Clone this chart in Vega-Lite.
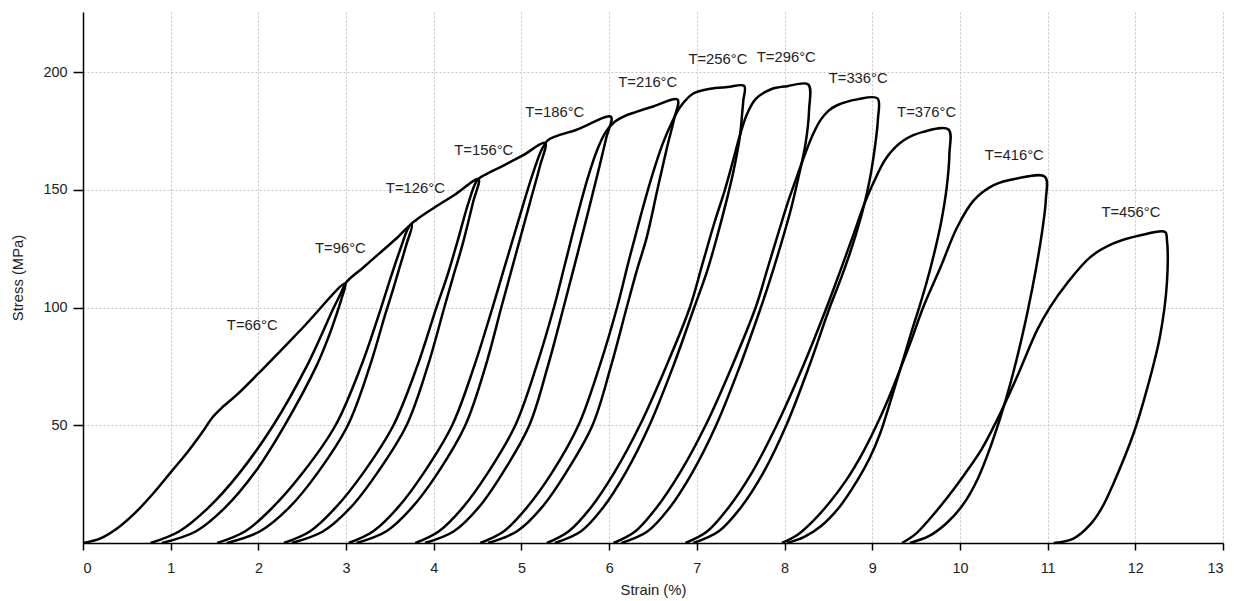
{
  "$schema": "https://vega.github.io/schema/vega-lite/v6.json",
  "width": 1140,
  "height": 531,
  "autosize": {"type": "none"},
  "padding": {"left": 83, "top": 12, "right": 11, "bottom": 58},
  "background": "white",
  "config": {"view": {"stroke": null}},
  "datasets": {
    "curves": [
      {"l":"66","i":0,"x":0,"y":0},{"l":"66","i":1,"x":0.2,"y":2},{"l":"66","i":2,"x":0.4,"y":6.5},{"l":"66","i":3,"x":0.6,"y":13},{"l":"66","i":4,"x":0.8,"y":21},{"l":"66","i":5,"x":1.0,"y":30},{"l":"66","i":6,"x":1.2,"y":39},{"l":"66","i":7,"x":1.35,"y":46.5},{"l":"66","i":8,"x":1.48,"y":53.5},{"l":"66","i":9,"x":1.58,"y":57.3},{"l":"66","i":10,"x":1.75,"y":62.8},{"l":"66","i":11,"x":2.0,"y":72},{"l":"66","i":12,"x":2.5,"y":91.2},{"l":"66","i":13,"x":2.99,"y":110.2},{"l":"66","i":14,"x":2.95,"y":104},{"l":"66","i":15,"x":2.89,"y":97},{"l":"66","i":16,"x":2.8,"y":87.5},{"l":"66","i":17,"x":2.66,"y":75},{"l":"66","i":18,"x":2.3,"y":50},{"l":"66","i":19,"x":1.96,"y":30},{"l":"66","i":20,"x":1.62,"y":15},{"l":"66","i":21,"x":1.29,"y":5},{"l":"66","i":22,"x":0.9,"y":0},

      {"l":"96","i":0,"x":0.77,"y":0},{"l":"96","i":1,"x":1.1,"y":5},{"l":"96","i":2,"x":1.43,"y":15},{"l":"96","i":3,"x":1.79,"y":30},{"l":"96","i":4,"x":2.17,"y":50},{"l":"96","i":5,"x":2.55,"y":75},{"l":"96","i":6,"x":2.86,"y":100},{"l":"96","i":7,"x":2.94,"y":106},{"l":"96","i":8,"x":3.0,"y":110.6},{"l":"96","i":9,"x":3.19,"y":116.8},{"l":"96","i":10,"x":3.38,"y":123},{"l":"96","i":11,"x":3.57,"y":129.2},{"l":"96","i":12,"x":3.75,"y":135.3},{"l":"96","i":13,"x":3.69,"y":127},{"l":"96","i":14,"x":3.61,"y":117},{"l":"96","i":15,"x":3.53,"y":107},{"l":"96","i":16,"x":3.45,"y":97.5},{"l":"96","i":17,"x":3.27,"y":75},{"l":"96","i":18,"x":3.02,"y":50},{"l":"96","i":19,"x":2.68,"y":30},{"l":"96","i":20,"x":2.35,"y":15},{"l":"96","i":21,"x":2.02,"y":5},{"l":"96","i":22,"x":1.64,"y":0},

      {"l":"126","i":0,"x":1.53,"y":0},{"l":"126","i":1,"x":1.85,"y":5},{"l":"126","i":2,"x":2.16,"y":15},{"l":"126","i":3,"x":2.51,"y":30},{"l":"126","i":4,"x":2.88,"y":50},{"l":"126","i":5,"x":3.17,"y":75},{"l":"126","i":6,"x":3.4,"y":100},{"l":"126","i":7,"x":3.52,"y":114},{"l":"126","i":8,"x":3.63,"y":126},{"l":"126","i":9,"x":3.72,"y":134.5},{"l":"126","i":10,"x":3.8,"y":137.2},{"l":"126","i":11,"x":3.96,"y":141.3},{"l":"126","i":12,"x":4.23,"y":147.7},{"l":"126","i":13,"x":4.51,"y":154.5},{"l":"126","i":14,"x":4.45,"y":145},{"l":"126","i":15,"x":4.33,"y":127},{"l":"126","i":16,"x":4.22,"y":113},{"l":"126","i":17,"x":4.12,"y":100},{"l":"126","i":18,"x":3.93,"y":75},{"l":"126","i":19,"x":3.69,"y":50},{"l":"126","i":20,"x":3.36,"y":30},{"l":"126","i":21,"x":3.05,"y":15},{"l":"126","i":22,"x":2.74,"y":5},{"l":"126","i":23,"x":2.38,"y":0},

      {"l":"156","i":0,"x":2.29,"y":0},{"l":"156","i":1,"x":2.59,"y":5},{"l":"156","i":2,"x":2.88,"y":15},{"l":"156","i":3,"x":3.2,"y":30},{"l":"156","i":4,"x":3.54,"y":50},{"l":"156","i":5,"x":3.81,"y":75},{"l":"156","i":6,"x":4.03,"y":100},{"l":"156","i":7,"x":4.15,"y":113},{"l":"156","i":8,"x":4.27,"y":128},{"l":"156","i":9,"x":4.4,"y":145},{"l":"156","i":10,"x":4.5,"y":154.3},{"l":"156","i":11,"x":4.61,"y":156.9},{"l":"156","i":12,"x":4.8,"y":160.4},{"l":"156","i":13,"x":5.02,"y":164.7},{"l":"156","i":14,"x":5.27,"y":169.9},{"l":"156","i":15,"x":5.21,"y":160},{"l":"156","i":16,"x":5.1,"y":145},{"l":"156","i":17,"x":4.99,"y":130},{"l":"156","i":18,"x":4.88,"y":115},{"l":"156","i":19,"x":4.77,"y":100},{"l":"156","i":20,"x":4.59,"y":75},{"l":"156","i":21,"x":4.36,"y":50},{"l":"156","i":22,"x":4.05,"y":30},{"l":"156","i":23,"x":3.75,"y":15},{"l":"156","i":24,"x":3.46,"y":5},{"l":"156","i":25,"x":3.12,"y":0},

      {"l":"186","i":0,"x":3.03,"y":0},{"l":"186","i":1,"x":3.31,"y":5},{"l":"186","i":2,"x":3.59,"y":15},{"l":"186","i":3,"x":3.89,"y":30},{"l":"186","i":4,"x":4.21,"y":50},{"l":"186","i":5,"x":4.46,"y":75},{"l":"186","i":6,"x":4.67,"y":100},{"l":"186","i":7,"x":4.79,"y":115},{"l":"186","i":8,"x":4.91,"y":130},{"l":"186","i":9,"x":5.03,"y":145},{"l":"186","i":10,"x":5.14,"y":158},{"l":"186","i":11,"x":5.23,"y":167},{"l":"186","i":12,"x":5.3,"y":171},{"l":"186","i":13,"x":5.4,"y":172.8},{"l":"186","i":14,"x":5.63,"y":175.5},{"l":"186","i":15,"x":6.02,"y":181},{"l":"186","i":16,"x":5.97,"y":172.5},{"l":"186","i":17,"x":5.88,"y":158.5},{"l":"186","i":18,"x":5.77,"y":142},{"l":"186","i":19,"x":5.63,"y":121.5},{"l":"186","i":20,"x":5.48,"y":100},{"l":"186","i":21,"x":5.3,"y":75},{"l":"186","i":22,"x":5.09,"y":50},{"l":"186","i":23,"x":4.79,"y":30},{"l":"186","i":24,"x":4.51,"y":15},{"l":"186","i":25,"x":4.23,"y":5},{"l":"186","i":26,"x":3.9,"y":0},

      {"l":"216","i":0,"x":3.79,"y":0},{"l":"216","i":1,"x":4.06,"y":5},{"l":"216","i":2,"x":4.33,"y":15},{"l":"216","i":3,"x":4.62,"y":30},{"l":"216","i":4,"x":4.93,"y":50},{"l":"216","i":5,"x":5.17,"y":75},{"l":"216","i":6,"x":5.37,"y":100},{"l":"216","i":7,"x":5.5,"y":119},{"l":"216","i":8,"x":5.63,"y":138},{"l":"216","i":9,"x":5.76,"y":155.5},{"l":"216","i":10,"x":5.87,"y":167.5},{"l":"216","i":11,"x":5.96,"y":174.5},{"l":"216","i":12,"x":6.06,"y":178.8},{"l":"216","i":13,"x":6.17,"y":181.2},{"l":"216","i":14,"x":6.3,"y":183},{"l":"216","i":15,"x":6.51,"y":185.5},{"l":"216","i":16,"x":6.78,"y":188.3},{"l":"216","i":17,"x":6.74,"y":180},{"l":"216","i":18,"x":6.66,"y":168},{"l":"216","i":19,"x":6.55,"y":150},{"l":"216","i":20,"x":6.43,"y":130},{"l":"216","i":21,"x":6.31,"y":115},{"l":"216","i":22,"x":6.2,"y":100},{"l":"216","i":23,"x":6.02,"y":75},{"l":"216","i":24,"x":5.81,"y":50},{"l":"216","i":25,"x":5.51,"y":30},{"l":"216","i":26,"x":5.23,"y":15},{"l":"216","i":27,"x":4.95,"y":5},{"l":"216","i":28,"x":4.62,"y":0},

      {"l":"256","i":0,"x":4.53,"y":0},{"l":"256","i":1,"x":4.8,"y":5},{"l":"256","i":2,"x":5.06,"y":15},{"l":"256","i":3,"x":5.35,"y":30},{"l":"256","i":4,"x":5.65,"y":50},{"l":"256","i":5,"x":5.89,"y":75},{"l":"256","i":6,"x":6.09,"y":100},{"l":"256","i":7,"x":6.225,"y":120},{"l":"256","i":8,"x":6.36,"y":139},{"l":"256","i":9,"x":6.49,"y":156},{"l":"256","i":10,"x":6.61,"y":169.5},{"l":"256","i":11,"x":6.72,"y":179},{"l":"256","i":12,"x":6.81,"y":185.2},{"l":"256","i":13,"x":6.96,"y":190.9},{"l":"256","i":14,"x":7.15,"y":192.9},{"l":"256","i":15,"x":7.35,"y":193.6},{"l":"256","i":16,"x":7.54,"y":194.1},{"l":"256","i":17,"x":7.53,"y":188},{"l":"256","i":18,"x":7.52,"y":183.8},{"l":"256","i":19,"x":7.49,"y":172.5},{"l":"256","i":20,"x":7.42,"y":158.3},{"l":"256","i":21,"x":7.34,"y":145.6},{"l":"256","i":22,"x":7.23,"y":130},{"l":"256","i":23,"x":7.12,"y":115.8},{"l":"256","i":24,"x":6.97,"y":100},{"l":"256","i":25,"x":6.73,"y":75},{"l":"256","i":26,"x":6.46,"y":50},{"l":"256","i":27,"x":6.19,"y":30},{"l":"256","i":28,"x":5.93,"y":15},{"l":"256","i":29,"x":5.68,"y":5},{"l":"256","i":30,"x":5.38,"y":0},

      {"l":"296","i":0,"x":5.29,"y":0},{"l":"296","i":1,"x":5.54,"y":5},{"l":"296","i":2,"x":5.79,"y":15},{"l":"296","i":3,"x":6.06,"y":30},{"l":"296","i":4,"x":6.35,"y":50},{"l":"296","i":5,"x":6.65,"y":75},{"l":"296","i":6,"x":6.92,"y":100},{"l":"296","i":7,"x":7.06,"y":118},{"l":"296","i":8,"x":7.2,"y":136},{"l":"296","i":9,"x":7.32,"y":150},{"l":"296","i":10,"x":7.41,"y":162},{"l":"296","i":11,"x":7.49,"y":173},{"l":"296","i":12,"x":7.57,"y":182},{"l":"296","i":13,"x":7.67,"y":188.5},{"l":"296","i":14,"x":7.84,"y":192.6},{"l":"296","i":15,"x":8.03,"y":194},{"l":"296","i":16,"x":8.27,"y":194.7},{"l":"296","i":17,"x":8.28,"y":184},{"l":"296","i":18,"x":8.24,"y":169.7},{"l":"296","i":19,"x":8.16,"y":155.5},{"l":"296","i":20,"x":8.07,"y":141.3},{"l":"296","i":21,"x":7.95,"y":125.7},{"l":"296","i":22,"x":7.82,"y":110},{"l":"296","i":23,"x":7.73,"y":100},{"l":"296","i":24,"x":7.49,"y":75},{"l":"296","i":25,"x":7.22,"y":50},{"l":"296","i":26,"x":6.95,"y":30},{"l":"296","i":27,"x":6.69,"y":15},{"l":"296","i":28,"x":6.44,"y":5},{"l":"296","i":29,"x":6.14,"y":0},

      {"l":"336","i":0,"x":6.05,"y":0},{"l":"336","i":1,"x":6.3,"y":5},{"l":"336","i":2,"x":6.54,"y":15},{"l":"336","i":3,"x":6.81,"y":30},{"l":"336","i":4,"x":7.1,"y":50},{"l":"336","i":5,"x":7.4,"y":75},{"l":"336","i":6,"x":7.67,"y":100},{"l":"336","i":7,"x":7.81,"y":117},{"l":"336","i":8,"x":7.95,"y":134.2},{"l":"336","i":9,"x":8.05,"y":146},{"l":"336","i":10,"x":8.14,"y":155.5},{"l":"336","i":11,"x":8.25,"y":166.8},{"l":"336","i":12,"x":8.33,"y":174},{"l":"336","i":13,"x":8.41,"y":179.6},{"l":"336","i":14,"x":8.5,"y":183.5},{"l":"336","i":15,"x":8.6,"y":185.9},{"l":"336","i":16,"x":8.83,"y":188.4},{"l":"336","i":17,"x":9.06,"y":188.8},{"l":"336","i":18,"x":9.065,"y":180},{"l":"336","i":19,"x":9.03,"y":168},{"l":"336","i":20,"x":8.97,"y":154},{"l":"336","i":21,"x":8.89,"y":141},{"l":"336","i":22,"x":8.78,"y":127},{"l":"336","i":23,"x":8.65,"y":113},{"l":"336","i":24,"x":8.51,"y":99.5},{"l":"336","i":25,"x":8.28,"y":75},{"l":"336","i":26,"x":8.02,"y":50},{"l":"336","i":27,"x":7.76,"y":30},{"l":"336","i":28,"x":7.5,"y":15},{"l":"336","i":29,"x":7.25,"y":5},{"l":"336","i":30,"x":6.96,"y":0},

      {"l":"376","i":0,"x":6.87,"y":0},{"l":"376","i":1,"x":7.12,"y":5},{"l":"376","i":2,"x":7.36,"y":15},{"l":"376","i":3,"x":7.63,"y":30},{"l":"376","i":4,"x":7.91,"y":50},{"l":"376","i":5,"x":8.21,"y":75},{"l":"376","i":6,"x":8.48,"y":100},{"l":"376","i":7,"x":8.64,"y":116},{"l":"376","i":8,"x":8.79,"y":131.4},{"l":"376","i":9,"x":8.9,"y":143},{"l":"376","i":10,"x":9.01,"y":152.7},{"l":"376","i":11,"x":9.17,"y":164},{"l":"376","i":12,"x":9.36,"y":171},{"l":"376","i":13,"x":9.58,"y":174.6},{"l":"376","i":14,"x":9.87,"y":175.6},{"l":"376","i":15,"x":9.88,"y":165.4},{"l":"376","i":16,"x":9.85,"y":151.2},{"l":"376","i":17,"x":9.79,"y":137.1},{"l":"376","i":18,"x":9.7,"y":122},{"l":"376","i":19,"x":9.615,"y":110},{"l":"376","i":20,"x":9.535,"y":100},{"l":"376","i":21,"x":9.45,"y":90},{"l":"376","i":22,"x":9.37,"y":80},{"l":"376","i":23,"x":9.28,"y":69},{"l":"376","i":24,"x":9.19,"y":58},{"l":"376","i":25,"x":9.09,"y":46.5},{"l":"376","i":26,"x":8.97,"y":36},{"l":"376","i":27,"x":8.83,"y":26.6},{"l":"376","i":28,"x":8.62,"y":15},{"l":"376","i":29,"x":8.41,"y":7},{"l":"376","i":30,"x":8.22,"y":2.5},{"l":"376","i":31,"x":8.03,"y":0},

      {"l":"416","i":0,"x":7.97,"y":0},{"l":"416","i":1,"x":8.15,"y":3.5},{"l":"416","i":2,"x":8.33,"y":9.5},{"l":"416","i":3,"x":8.52,"y":17.5},{"l":"416","i":4,"x":8.71,"y":27},{"l":"416","i":5,"x":8.88,"y":37.5},{"l":"416","i":6,"x":9.03,"y":48.5},{"l":"416","i":7,"x":9.17,"y":60},{"l":"416","i":8,"x":9.3,"y":72},{"l":"416","i":9,"x":9.44,"y":85.5},{"l":"416","i":10,"x":9.58,"y":100},{"l":"416","i":11,"x":9.78,"y":117.2},{"l":"416","i":12,"x":9.97,"y":134.2},{"l":"416","i":13,"x":10.16,"y":145.6},{"l":"416","i":14,"x":10.38,"y":151.9},{"l":"416","i":15,"x":10.65,"y":154.8},{"l":"416","i":16,"x":10.97,"y":155.5},{"l":"416","i":17,"x":10.98,"y":146},{"l":"416","i":18,"x":10.94,"y":133},{"l":"416","i":19,"x":10.87,"y":117},{"l":"416","i":20,"x":10.77,"y":98},{"l":"416","i":21,"x":10.64,"y":77},{"l":"416","i":22,"x":10.5,"y":58},{"l":"416","i":23,"x":10.35,"y":41},{"l":"416","i":24,"x":10.2,"y":27},{"l":"416","i":25,"x":10.03,"y":16},{"l":"416","i":26,"x":9.85,"y":8.5},{"l":"416","i":27,"x":9.65,"y":3},{"l":"416","i":28,"x":9.43,"y":0},

      {"l":"456","i":0,"x":9.34,"y":0},{"l":"456","i":1,"x":9.5,"y":4},{"l":"456","i":2,"x":9.65,"y":10},{"l":"456","i":3,"x":9.85,"y":19},{"l":"456","i":4,"x":10.05,"y":29},{"l":"456","i":5,"x":10.25,"y":40},{"l":"456","i":6,"x":10.42,"y":52},{"l":"456","i":7,"x":10.65,"y":70.5},{"l":"456","i":8,"x":10.88,"y":90.4},{"l":"456","i":9,"x":11.03,"y":100.3},{"l":"456","i":10,"x":11.22,"y":110.2},{"l":"456","i":11,"x":11.49,"y":121.5},{"l":"456","i":12,"x":11.75,"y":127.2},{"l":"456","i":13,"x":12.06,"y":130.7},{"l":"456","i":14,"x":12.34,"y":132.1},{"l":"456","i":15,"x":12.36,"y":129},{"l":"456","i":16,"x":12.36,"y":110.2},{"l":"456","i":17,"x":12.28,"y":87.5},{"l":"456","i":18,"x":12.13,"y":64.9},{"l":"456","i":19,"x":11.98,"y":46.5},{"l":"456","i":20,"x":11.75,"y":25.2},{"l":"456","i":21,"x":11.62,"y":15},{"l":"456","i":22,"x":11.49,"y":8},{"l":"456","i":23,"x":11.3,"y":2},{"l":"456","i":24,"x":11.07,"y":0}
    ],
    "labels": [
      {"t":"T=66°C","x":1.93,"y":92.1},
      {"t":"T=96°C","x":2.935,"y":124.8},
      {"t":"T=126°C","x":3.79,"y":150.3},
      {"t":"T=156°C","x":4.57,"y":166.3},
      {"t":"T=186°C","x":5.38,"y":182.6},
      {"t":"T=216°C","x":6.44,"y":195.2},
      {"t":"T=256°C","x":7.24,"y":205},
      {"t":"T=296°C","x":8.02,"y":206.1},
      {"t":"T=336°C","x":8.84,"y":197.1},
      {"t":"T=376°C","x":9.62,"y":182.4},
      {"t":"T=416°C","x":10.62,"y":164.4},
      {"t":"T=456°C","x":11.95,"y":140.1}
    ]
  },
  "layer": [
    {
      "data": {"name": "curves"},
      "mark": {"type": "line", "interpolate": "catmull-rom", "color": "#000000", "strokeWidth": 2.5, "strokeJoin": "round", "clip": false},
      "encoding": {
        "x": {
          "field": "x", "type": "quantitative",
          "scale": {"domain": [0, 13], "nice": false, "zero": false},
          "axis": {
            "title": "Strain (%)",
            "values": [0,1,2,3,4,5,6,7,8,9,10,11,12,13],
            "format": "d",
            "grid": true, "gridColor": "#c4c4c4", "gridDash": [2, 2], "gridWidth": 1,
            "domainColor": "#000000", "domainWidth": 1.5,
            "tickColor": "#000000", "tickWidth": 1.5, "tickSize": 7,
            "labelFont": "Liberation Sans", "labelFontSize": 14.4, "labelColor": "#222222", "labelPadding": 11,
            "titleFont": "Liberation Sans", "titleFontSize": 14.8, "titleFontWeight": "normal", "titleColor": "#222222", "titlePadding": 8
          }
        },
        "y": {
          "field": "y", "type": "quantitative",
          "scale": {"domain": [0, 225.5], "nice": false, "zero": false},
          "axis": {
            "title": "Stress (MPa)",
            "values": [50, 100, 150, 200],
            "grid": true, "gridColor": "#c4c4c4", "gridDash": [2, 2], "gridWidth": 1,
            "domainColor": "#000000", "domainWidth": 1.5,
            "tickColor": "#000000", "tickWidth": 1.5, "tickSize": 10,
            "labelFont": "Liberation Sans", "labelFontSize": 14.4, "labelColor": "#222222", "labelPadding": 6,
            "titleFont": "Liberation Sans", "titleFontSize": 14.8, "titleFontWeight": "normal", "titleColor": "#222222", "titlePadding": 17
          }
        },
        "detail": {"field": "l", "type": "nominal"},
        "order": {"field": "i", "type": "quantitative"}
      }
    },
    {
      "data": {"name": "labels"},
      "mark": {"type": "text", "font": "Liberation Sans", "fontSize": 14.8, "color": "#222222", "align": "center", "baseline": "middle"},
      "encoding": {
        "x": {"field": "x", "type": "quantitative"},
        "y": {"field": "y", "type": "quantitative"},
        "text": {"field": "t", "type": "nominal"}
      }
    }
  ]
}
